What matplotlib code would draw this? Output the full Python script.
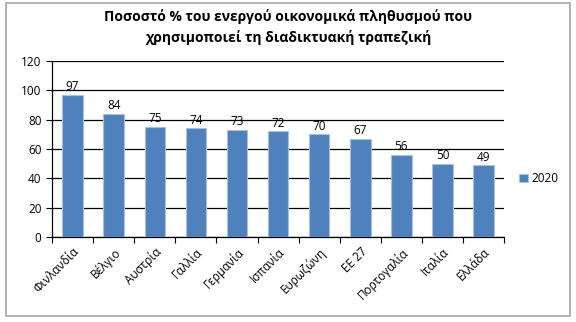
import matplotlib.pyplot as plt
from matplotlib.patches import Rectangle

# Percentage of economically active population using e-banking, 2020
countries = ['Φινλανδία', 'Βέλγιο', 'Αυστρία', 'Γαλλία', 'Γερμανία', 'Ισπανία',
             'Ευρωζώνη', 'ΕΕ 27', 'Πορτογαλία', 'Ιταλία', 'Ελλάδα']
values_2020 = [97, 84, 75, 74, 73, 72, 70, 67, 56, 50, 49]
yticks = [0, 20, 40, 60, 80, 100, 120]

plt.rcParams['font.family'] = ['Open Sans', 'DejaVu Sans']

fig = plt.figure(figsize=(5.76, 3.22), dpi=100)
ax = fig.add_axes([0.0903, 0.264, 0.785, 0.547])

# grey outer frame of the chart
fig.patches.append(Rectangle((6 / 576, 6 / 322), 564 / 576, 313 / 322,
                             transform=fig.transFigure, fill=False,
                             edgecolor='#a6a6a6', linewidth=1.2))

x = list(range(len(countries)))
bars = ax.bar(x, values_2020, width=0.5, color='#4f81bd', edgecolor='#a7c0de',
              linewidth=0.8, label='2020', zorder=3)
for xi, v in zip(x, values_2020):
    ax.text(xi, v + 1, str(v), ha='center', va='bottom', fontsize=8.5, zorder=4)

ax.set_xlim(-0.5, len(countries) - 0.5)
ax.set_ylim(0, 120)
ax.set_yticks(yticks)
ax.yaxis.grid(True, color='black', linewidth=0.9, zorder=0)
ax.tick_params(axis='y', labelsize=8.5, length=4, width=0.8, direction='out')

ax.set_xticks(x)
ax.set_xticklabels(countries, rotation=45, ha='right', rotation_mode='anchor',
                   fontsize=8.5)
ax.tick_params(axis='x', length=0, pad=6)
# category separators below the axis
ax.set_xticks([i - 0.5 for i in range(len(countries) + 1)], minor=True)
ax.tick_params(axis='x', which='minor', length=4, width=0.8)

for side in ['top', 'right']:
    ax.spines[side].set_visible(False)
ax.spines['left'].set_linewidth(0.9)
ax.spines['bottom'].set_linewidth(0.9)

fig.text(0.5, 0.972, 'Ποσοστό % του ενεργού οικονομικά πληθυσμού που\n'
         'χρησιμοποιεί τη διαδικτυακή τραπεζική',
         ha='center', va='top', fontsize=10, fontweight='bold', linespacing=1.55)

ax.legend(loc='center left', bbox_to_anchor=(1.01, 0.33), frameon=False,
          fontsize=8.5, handlelength=0.7, handleheight=0.7, handletextpad=0.3)

fig.savefig('out.png', dpi=100)
